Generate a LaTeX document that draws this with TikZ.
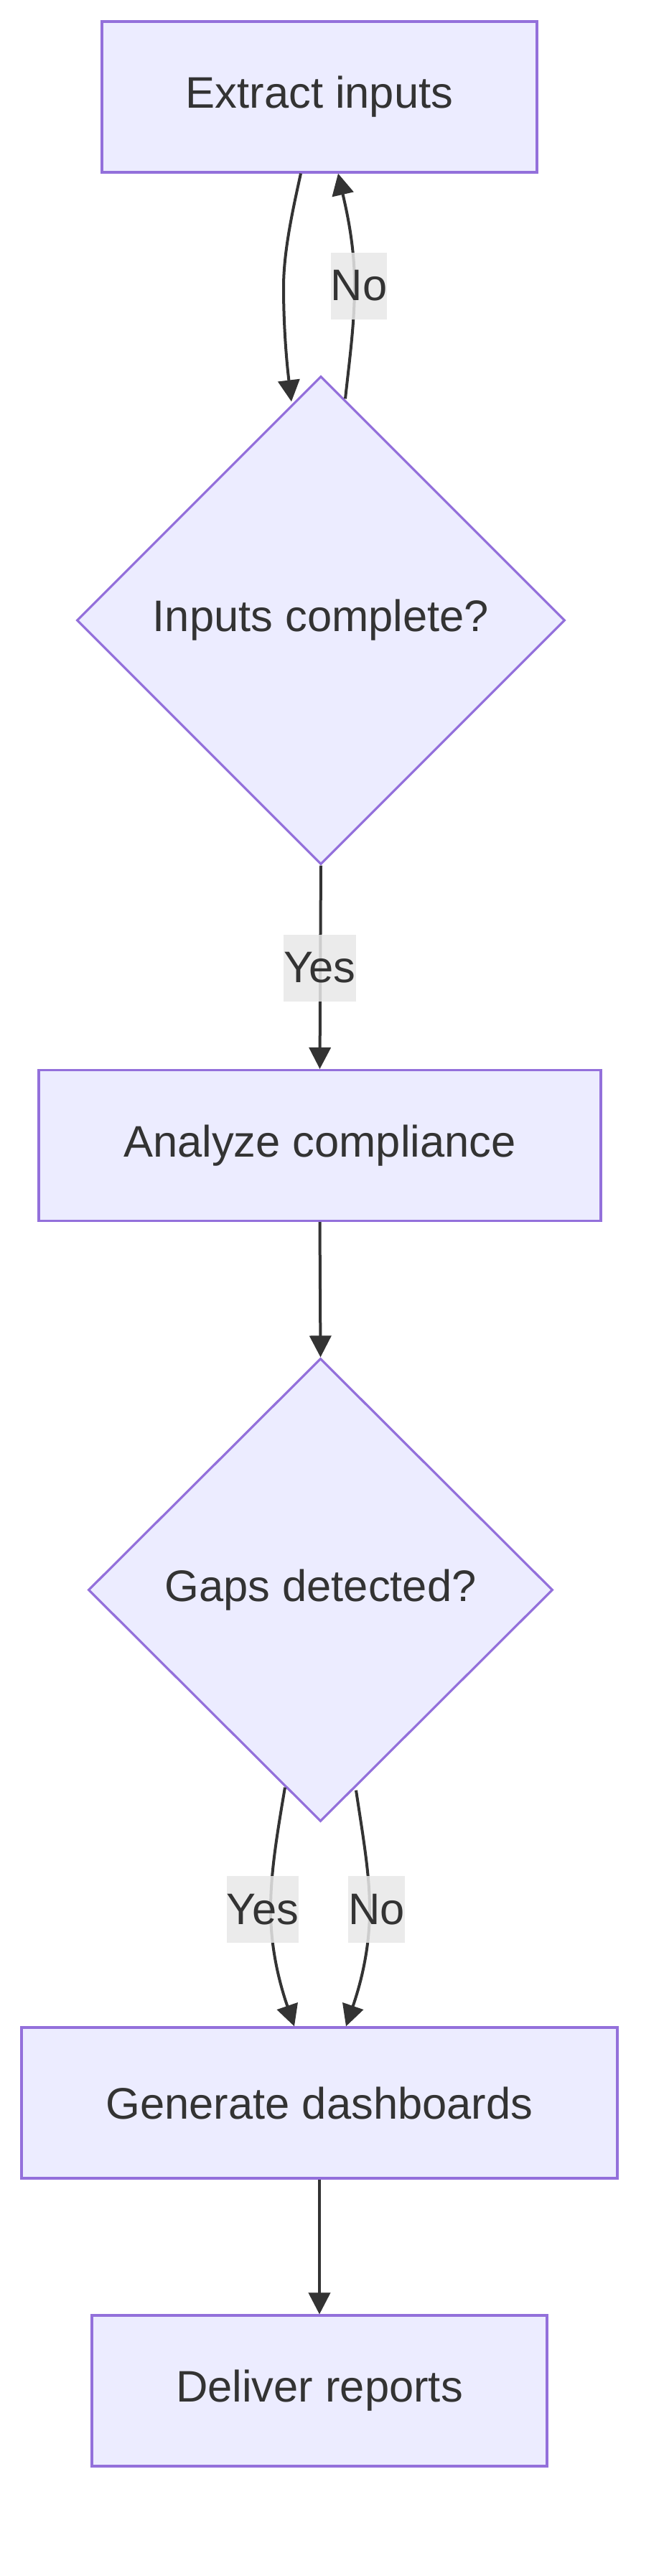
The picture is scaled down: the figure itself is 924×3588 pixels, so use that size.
\documentclass[tikz,border=0pt]{standalone}
\usepackage{fontspec}
\setmainfont{Liberation Sans}
\usetikzlibrary{shapes.geometric,arrows.meta,calc}
\definecolor{nodefill}{HTML}{ECECFF}
\definecolor{nodeline}{HTML}{9370DB}
\definecolor{ink}{HTML}{333333}
\definecolor{lblbg}{HTML}{E8E8E8}
\begin{document}
\begin{tikzpicture}[x=1pt,y=-1pt,
  every node/.style={font=\fontsize{61.5}{74}\selectfont, text=ink},
  procbox/.style={rectangle, draw=nodeline, fill=nodefill, line width=3.2pt, inner sep=0pt, minimum height=210pt},
  decision/.style={diamond, draw=nodeline, fill=nodefill, line width=3.2pt, inner sep=0pt},
  edge/.style={draw=ink, line width=4pt, -{Triangle[length=30pt,width=30pt]}},
  elabel/.style={fill=lblbg, fill opacity=0.85, text opacity=1, inner sep=0pt, minimum height=93pt}
]
\useasboundingbox (0,0) rectangle (924,3588);

\node[procbox, minimum width=606pt] (b1) at (445,135) {Extract inputs};
\node[decision, minimum width=680pt, minimum height=680pt] (d1) at (447,864) {Inputs complete?};
\node[procbox, minimum width=783pt] (b2) at (445.5,1595.5) {Analyze compliance};
\node[decision, minimum width=647pt, minimum height=645pt] (d2) at (446.5,2214.5) {Gaps detected?};
\node[procbox, minimum width=830pt] (b3) at (445,2929) {Generate dashboards};
\node[procbox, minimum width=634pt] (b4) at (445,3330) {Deliver reports};

% Extract inputs -> Inputs complete?
\coordinate (m1) at (395,400);
\draw[edge] ($(b1.south)+(-26,0)$) .. controls ($(b1.south)+(-37,50)$) and (395,350) .. (m1)
  .. controls (395,460) and (400,510) .. ($(d1.north)+(-41,37)$);
% Inputs complete? -> Extract inputs (No)
\coordinate (m2) at (494,397);
\draw[edge] ($(d1.north)+(34,33)$) .. controls (487,500) and (494,450) .. (m2)
  .. controls (494,340) and (482,290) .. ($(b1.south)+(26,0)$);
\node[elabel, minimum width=77pt] (lno1) at (500,398) {No};

% Inputs complete? -> Analyze compliance (Yes)
\draw[edge] (d1.south) -- (b2.north);
\node[elabel, minimum width=101pt] (lyes1) at (445.5,1348) {Yes};

% Analyze compliance -> Gaps detected?
\draw[edge] (b2.south) -- (d2.north);

% Gaps detected? -> Generate dashboards (Yes)
\coordinate (m3) at (377,2660);
\draw[edge] ($(d2.south)+(-49.5,-49)$) .. controls (385,2560) and (377,2610) .. (m3)
  .. controls (377,2720) and (392,2770) .. ($(b3.north)+(-35,0)$);
\node[elabel, minimum width=100pt] (lyes2) at (366,2659.5) {Yes};

% Gaps detected? -> Generate dashboards (No)
\coordinate (m4) at (515,2660);
\draw[edge] ($(d2.south)+(49.5,-45)$) .. controls (506,2560) and (515,2610) .. (m4)
  .. controls (515,2720) and (500,2770) .. ($(b3.north)+(37,0)$);
\node[elabel, minimum width=77pt] (lno2) at (524.5,2659.5) {No};

% Generate dashboards -> Deliver reports
\draw[edge] (b3.south) -- (b4.north);
\end{tikzpicture}
\end{document}
